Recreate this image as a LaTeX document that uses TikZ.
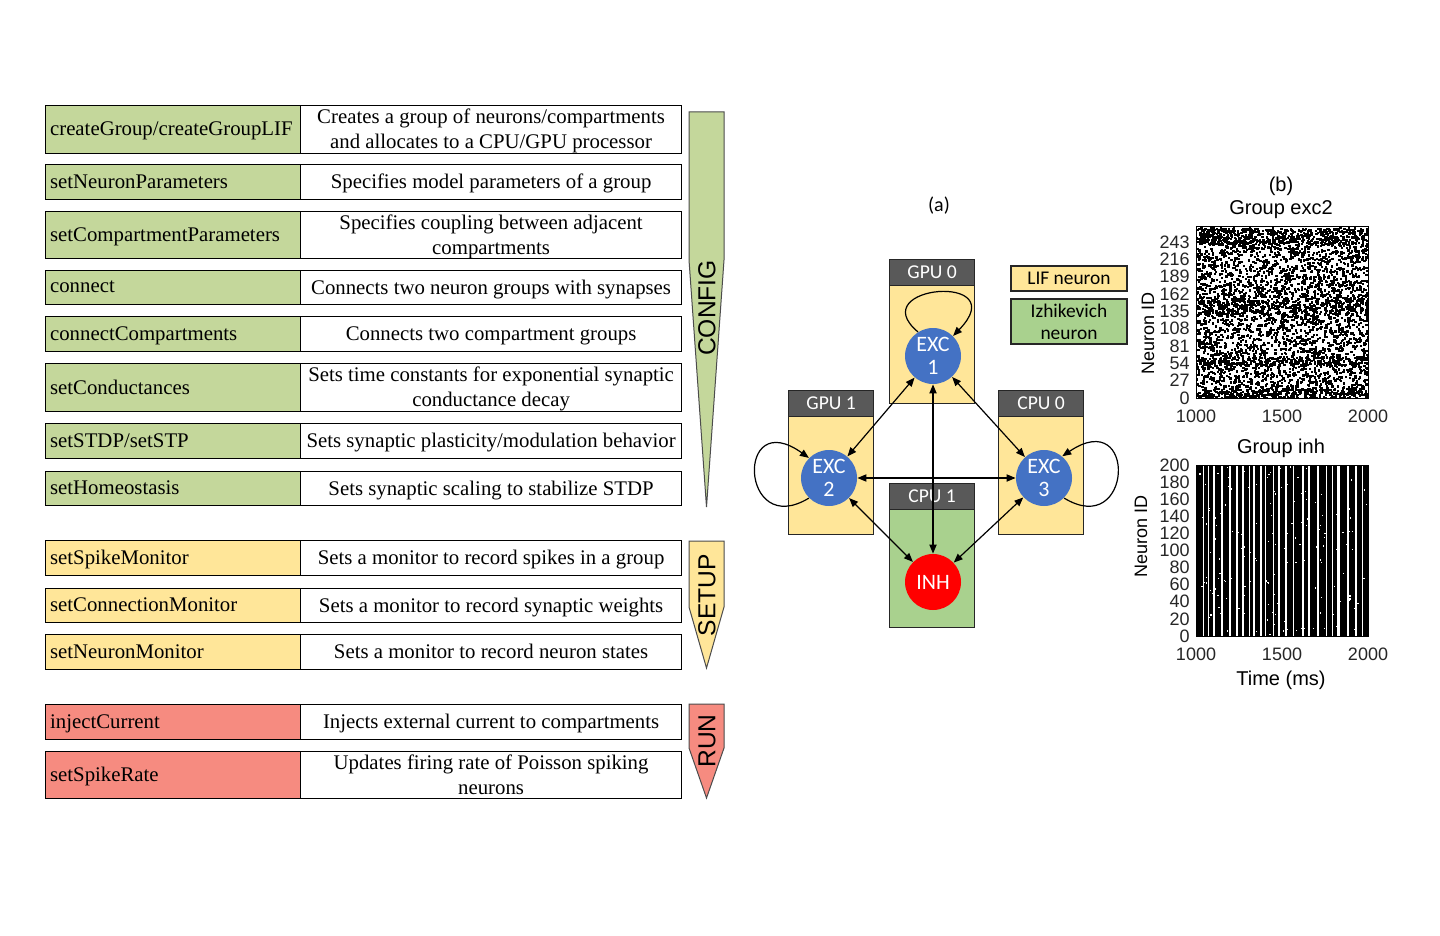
\documentclass[tikz,border=0pt]{standalone}
\usepackage{fontspec}
\setmainfont{Liberation Serif}
\newfontfamily\calfont{Carlito}
\newfontfamily\arialfont{Liberation Sans}
\usetikzlibrary{arrows.meta}
\definecolor{tgreen}{HTML}{C4D79B}
\definecolor{tyellow}{HTML}{FFE699}
\definecolor{tred}{HTML}{F68B80}
\definecolor{lif}{HTML}{FFE699}
\definecolor{izh}{HTML}{A9D18E}
\definecolor{hdr}{HTML}{595959}
\definecolor{excblue}{HTML}{4472C4}
\definecolor{inhred}{HTML}{FF0000}
\newcommand\mytabrow[6]{%
  \pgfmathsetmacro\myrowh{(#3-#2)*0.5}%
  \node[lcell,fill=#4,minimum height=\myrowh pt] (#1L) at (45,#2) {#5};
  \node[rcell,minimum height=\myrowh pt] (#1R) at (300,#2) {#6};
}
\tikzset{
  lcell/.style={draw=black, line width=0.6pt, anchor=north west, minimum width=127.5pt,
    text width=123pt, inner xsep=2.2pt, inner ysep=0pt, align=left, text depth=0.6pt,
    font=\fontsize{10.4}{12.5}\selectfont},
  rcell/.style={draw=black, line width=0.6pt, fill=white, anchor=north west,
    minimum width=190.5pt, inner sep=0pt, align=center, text depth=0.6pt,
    font=\fontsize{10.4}{12.5}\selectfont},
  phase/.style={draw=black!70, line width=0.5pt},
  phasetext/.style={rotate=90, inner sep=0pt, font=\arialfont\fontsize{12.3}{12}\selectfont},
  body/.style={draw=black!85, line width=0.6pt, anchor=north west, minimum width=42.5pt,
    minimum height=72pt, inner sep=0pt},
  hd/.style={draw=black!85, fill=hdr, line width=0.6pt, anchor=north west, minimum width=42.5pt,
    minimum height=13pt, inner sep=0pt, text=white, font=\calfont\fontsize{9.8}{10}\selectfont},
  neuron/.style={circle, minimum size=28pt, inner sep=0pt, text=white, align=center,
    font=\calfont\fontsize{11}{11.8}\selectfont},
  conn/.style={line width=0.6pt, {Triangle[length=4.5pt,width=3.6pt]}-{Triangle[length=4.5pt,width=3.6pt]}},
  selfloop/.style={line width=0.6pt, -{Triangle[length=4.5pt,width=3.6pt]}},
  legendbox/.style={draw=black!85, line width=0.6pt, inner sep=0pt, minimum width=58pt,
    align=center, font=\calfont\fontsize{9.7}{11}\selectfont},
  ptitle/.style={inner sep=0pt, font=\arialfont\fontsize{10}{12}\selectfont},
  tick/.style={inner sep=0pt, text=black!85, font=\arialfont\fontsize{9}{10}\selectfont},
}
\begin{document}
\begin{tikzpicture}[x=0.5pt,y=-0.5pt]
\useasboundingbox (0,0) rectangle (1440,936);
\fill[white] (0,0) rectangle (1440,936);

% ---------- table ----------
\mytabrow{ra}{105}{153}{tgreen}{createGroup/createGroupLIF}{Creates a group of neurons/compartments\\and allocates to a CPU/GPU processor}
\mytabrow{rb}{164}{199}{tgreen}{setNeuronParameters}{Specifies model parameters of a group}
\mytabrow{rc}{211}{258}{tgreen}{setCompartmentParameters}{Specifies coupling between adjacent\\compartments}
\mytabrow{rd}{270}{304}{tgreen}{connect}{Connects two neuron groups with synapses}
\mytabrow{re}{316}{351}{tgreen}{connectCompartments}{Connects two compartment groups}
\mytabrow{rf}{363}{411}{tgreen}{setConductances}{Sets time constants for exponential synaptic\\conductance decay}
\mytabrow{rg}{423}{458}{tgreen}{setSTDP/setSTP}{Sets synaptic plasticity/modulation behavior}
\mytabrow{rh}{471}{505}{tgreen}{setHomeostasis}{Sets synaptic scaling to stabilize STDP}
\mytabrow{ri}{540}{575}{tyellow}{setSpikeMonitor}{Sets a monitor to record spikes in a group}
\mytabrow{rj}{588}{622}{tyellow}{setConnectionMonitor}{Sets a monitor to record synaptic weights}
\mytabrow{rk}{634}{669}{tyellow}{setNeuronMonitor}{Sets a monitor to record neuron states}
\mytabrow{rl}{704}{739}{tred}{injectCurrent}{Injects external current to compartments}
\mytabrow{rm}{751}{798}{tred}{setSpikeRate}{Updates firing rate of Poisson spiking\\neurons}

% ---------- phase arrows ----------
\draw[phase, fill=tgreen] (689,112) -- (724,112) -- (724,260) -- (706.5,507) -- (689,260) -- cycle;
\node[phasetext] (config) at (707,308) {CONFIG};
\draw[phase, fill=tyellow] (689,541) -- (724,541) -- (724,607) -- (706.5,668) -- (689,607) -- cycle;
\node[phasetext] (setup) at (707,595) {SETUP};
\draw[phase, fill=tred] (689,704) -- (724,704) -- (724,748) -- (706.5,798) -- (689,748) -- cycle;
\node[phasetext] (run) at (707,741) {RUN};

% ---------- network (a) ----------
\node[font=\calfont\fontsize{10}{12}\selectfont, inner sep=0pt] (lbla) at (939,206) {(a)};

\node[body, fill=lif] (gpu0b) at (889,259) {};
\node[hd] (gpu0) at (889,259) {GPU 0};
\node[body, fill=lif] (gpu1b) at (788,390) {};
\node[hd] (gpu1) at (788,390) {GPU 1};
\node[body, fill=lif] (cpu0b) at (998,390) {};
\node[hd] (cpu0) at (998,390) {CPU 0};
\node[body, fill=izh] (cpu1b) at (889,483) {};
\node[hd] (cpu1) at (889,483) {CPU 1};

\node[legendbox, fill=lif, minimum height=12.5pt] (leglif) at (1069,278.5) {LIF neuron};
\node[legendbox, fill=izh, minimum height=22.5pt] (legizh) at (1069,321.5) {Izhikevich\\neuron};

\node[neuron, fill=excblue] (e1) at (933,356) {EXC\\1};
\node[neuron, fill=excblue] (e2) at (829,478) {EXC\\2};
\node[neuron, fill=excblue] (e3) at (1044,478) {EXC\\3};
\node[neuron, fill=inhred] (inh) at (933,582) {INH};

\draw[conn] (e1) -- (e2);
\draw[conn] (e1) -- (e3);
\draw[conn] (e2) -- (e3);
\draw[conn] (e2) -- (inh);
\draw[conn] (e3) -- (inh);
\draw[conn] (e1) -- (inh);

\draw[selfloop] (e1.122) .. controls (862,285) and (1015,272) .. (e1.45);
\draw[selfloop] (e2.-135) .. controls (740,540) and (735,405) .. (e2.135);
\draw[selfloop] (e3.-45) .. controls (1133,540) and (1138,405) .. (e3.50);

% ---------- raster (b) ----------
\node[ptitle] (lblb) at (1281,186) {(b)};
\node[ptitle] (t1) at (1281,210) {Group exc2};
\begin{scope}
  \clip (1196,227) rectangle (1368,398);
  \pgfmathsetseed{42}
  \foreach \i in {1,...,3400}{
    \pgfmathsetmacro\xx{1196+172*rnd}
    \pgfmathsetmacro\yy{227+171*rnd}
    \fill (\xx,\yy) rectangle +(2.3,2.3);
  }
  \foreach \i in {1,...,380}{
    \pgfmathsetmacro\xx{1196+172*rnd}
    \pgfmathsetmacro\yy{228+16*rnd}
    \fill (\xx,\yy) rectangle +(2.3,2.3);
  }
  \foreach \i in {1,...,260}{
    \pgfmathsetmacro\xx{1196+172*rnd}
    \pgfmathsetmacro\yy{299+14*rnd}
    \fill (\xx,\yy) rectangle +(2.3,2.3);
  }
  \foreach \i in {1,...,200}{
    \pgfmathsetmacro\xx{1196+172*rnd}
    \pgfmathsetmacro\yy{356+9*rnd}
    \fill (\xx,\yy) rectangle +(2.3,2.3);
  }
  \foreach \i in {1,...,200}{
    \pgfmathsetmacro\xx{1196+172*rnd}
    \pgfmathsetmacro\yy{388+10*rnd}
    \fill (\xx,\yy) rectangle +(2.3,2.3);
  }
\end{scope}
\draw[line width=0.5pt] (1196,227) rectangle (1368,398);
\foreach \v in {0,27,...,243}
  \node[tick, anchor=east] (ya\v) at (1190,{398-\v*0.642}) {\v};
\node[tick] (xa1) at (1196,416) {1000};
\node[tick] (xa2) at (1282,416) {1500};
\node[tick] (xa3) at (1368,416) {2000};
\node[tick, rotate=90, text=black] (yla) at (1148,333) {Neuron ID};

\node[ptitle] (t2) at (1281,448) {Group inh};
\begin{scope}
  \clip (1196,465) rectangle (1368,636);
  \pgfmathsetseed{7}
  \gdef\stripex{1196}
  \foreach \k in {1,...,45}{
    \pgfmathsetmacro\sw{3+rnd*4.5}
    \pgfmathsetmacro\sg{1+rnd*1.4}
    \fill (\stripex,465) rectangle ({\stripex+\sw},636);
    \pgfmathsetmacro\nx{\stripex+\sw+\sg}
    \xdef\stripex{\nx}
  }
  \foreach \i in {1,...,200}{
    \pgfmathsetmacro\xx{1196+172*rnd}
    \pgfmathsetmacro\yy{465+171*rnd}
    \fill[white] (\xx,\yy) rectangle +(1.2,1.2);
  }
\end{scope}
\draw[line width=0.5pt] (1196,465) rectangle (1368,636);
\foreach \v in {0,20,...,200}
  \node[tick, anchor=east] (yb\v) at (1190,{636-\v*0.855}) {\v};
\node[tick] (xb1) at (1196,654) {1000};
\node[tick] (xb2) at (1282,654) {1500};
\node[tick] (xb3) at (1368,654) {2000};
\node[ptitle] (xlab) at (1281,680) {Time (ms)};
\node[tick, rotate=90, text=black] (ylb) at (1141,536) {Neuron ID};
\end{tikzpicture}
\end{document}
